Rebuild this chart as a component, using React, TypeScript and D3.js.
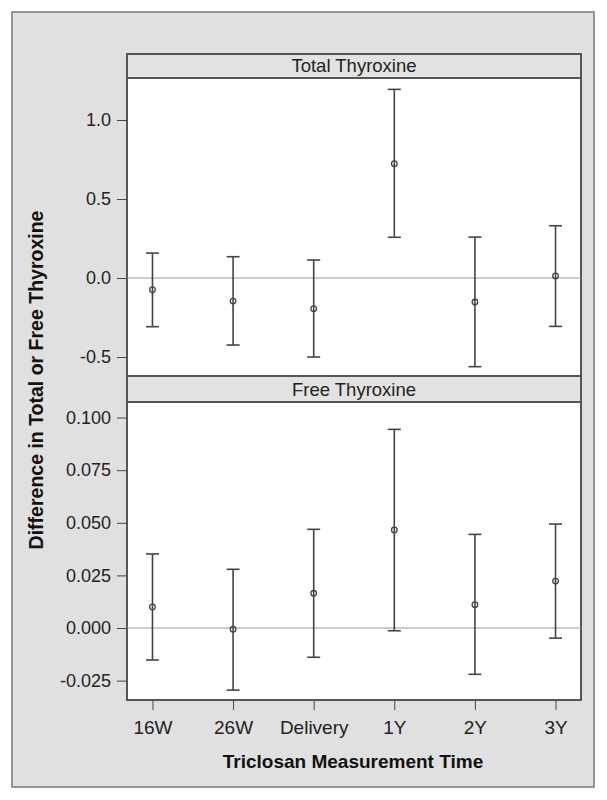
import React, { useEffect, useRef } from 'react';
import * as d3 from 'd3';

// Data
const categories = ['16W', '26W', 'Delivery', '1Y', '2Y', '3Y'];
const totalMean = [-0.074, -0.146, -0.194, 0.724, -0.152, 0.013];
const totalLower = [-0.308, -0.424, -0.5, 0.258, -0.561, -0.306];
const totalUpper = [0.158, 0.135, 0.114, 1.194, 0.259, 0.331];
const freeMean = [0.01, -0.0006, 0.0165, 0.0466, 0.0111, 0.0223];
const freeLower = [-0.0152, -0.0295, -0.0139, -0.0013, -0.022, -0.0048];
const freeUpper = [0.0352, 0.0279, 0.0469, 0.0944, 0.0445, 0.0494];
const totalTicks = [-0.5, 0, 0.5, 1.0];
const freeTicks = [-0.025, 0, 0.025, 0.05, 0.075, 0.1];

export default function App() {
  const svgRef = useRef<SVGSVGElement>(null);

  useEffect(() => {
    const svg = d3.select(svgRef.current);
    svg.selectAll('*').remove();

    const font = 'Liberation Sans, Arial, sans-serif';
    const frame = '#555';
    const bar = '#444';

    // outer box
    svg.append('rect')
      .attr('x', 12).attr('y', 12).attr('width', 582).attr('height', 775)
      .attr('fill', '#e0e0e0').attr('stroke', '#777').attr('stroke-width', 1.5);

    const left = 127, right = 581;
    const x = d3.scalePoint<string>().domain(categories).range([left, right]).padding(0.316);

    const fmt = (f: string) => (v: number) => d3.format(f)(v).replace('\u2212', '-');

    const panels = [
      { title: 'Total Thyroxine', top: 54, y0: 78, y1: 376, domain: [-0.62, 1.266], ticks: totalTicks, f: '.1f',
        mean: totalMean, lo: totalLower, hi: totalUpper },
      { title: 'Free Thyroxine', top: 376, y0: 402, y1: 700, domain: [-0.0342, 0.1074], ticks: freeTicks, f: '.3f',
        mean: freeMean, lo: freeLower, hi: freeUpper },
    ];

    panels.forEach((p) => {
      const y = d3.scaleLinear().domain(p.domain).range([p.y1, p.y0]);
      const g = svg.append('g');

      // header strip
      g.append('rect')
        .attr('x', left).attr('y', p.top).attr('width', right - left).attr('height', p.y0 - p.top)
        .attr('fill', '#e2e2e2').attr('stroke', frame).attr('stroke-width', 2);
      g.append('text')
        .attr('x', (left + right) / 2).attr('y', p.y0 - 6)
        .attr('text-anchor', 'middle').attr('font-family', font).attr('font-size', 18.5).attr('fill', '#222')
        .text(p.title);

      // plot area
      g.append('rect')
        .attr('x', left).attr('y', p.y0).attr('width', right - left).attr('height', p.y1 - p.y0)
        .attr('fill', '#fff').attr('stroke', frame).attr('stroke-width', 2);

      // zero line
      g.append('line')
        .attr('x1', left).attr('x2', right).attr('y1', y(0)).attr('y2', y(0))
        .attr('stroke', '#999').attr('stroke-width', 1);

      // y axis
      const ax = g.append('g')
        .attr('transform', `translate(${left},0)`)
        .call(d3.axisLeft(y).tickValues(p.ticks).tickFormat(fmt(p.f) as any).tickSize(10).tickPadding(6));
      ax.select('.domain').remove();
      ax.selectAll('line').attr('stroke', '#444');
      ax.selectAll('text').attr('font-family', font).attr('font-size', 18).attr('fill', '#222');

      // error bars
      categories.forEach((c, i) => {
        const cx = x(c)!;
        g.append('line')
          .attr('x1', cx).attr('x2', cx).attr('y1', y(p.lo[i])).attr('y2', y(p.hi[i]))
          .attr('stroke', bar).attr('stroke-width', 1.6);
        [p.lo[i], p.hi[i]].forEach((v) => {
          g.append('line')
            .attr('x1', cx - 6.5).attr('x2', cx + 6.5).attr('y1', y(v)).attr('y2', y(v))
            .attr('stroke', bar).attr('stroke-width', 1.6);
        });
        g.append('circle')
          .attr('cx', cx).attr('cy', y(p.mean[i])).attr('r', 2.8)
          .attr('fill', 'none').attr('stroke', bar).attr('stroke-width', 1.3);
      });
    });

    // x axis
    const xa = svg.append('g')
      .attr('transform', 'translate(0,701)')
      .call(d3.axisBottom(x).tickSize(9).tickPadding(11));
    xa.select('.domain').remove();
    xa.selectAll('line').attr('stroke', '#444');
    xa.selectAll('text').attr('font-family', font).attr('font-size', 19).attr('fill', '#222');

    // titles
    svg.append('text')
      .attr('x', 353).attr('y', 768)
      .attr('text-anchor', 'middle').attr('font-family', font).attr('font-size', 19)
      .attr('font-weight', 'bold').attr('fill', '#111')
      .text('Triclosan Measurement Time');

    svg.append('text')
      .attr('transform', 'translate(43,380) rotate(-90)')
      .attr('text-anchor', 'middle').attr('font-family', font).attr('font-size', 19.5)
      .attr('font-weight', 'bold').attr('fill', '#111')
      .text('Difference in Total or Free Thyroxine');
  }, []);

  return (
    <svg ref={svgRef} width={607} height={800}
      style={{ position: 'absolute', left: 0, top: 0, background: '#fff' }} />
  );
}
